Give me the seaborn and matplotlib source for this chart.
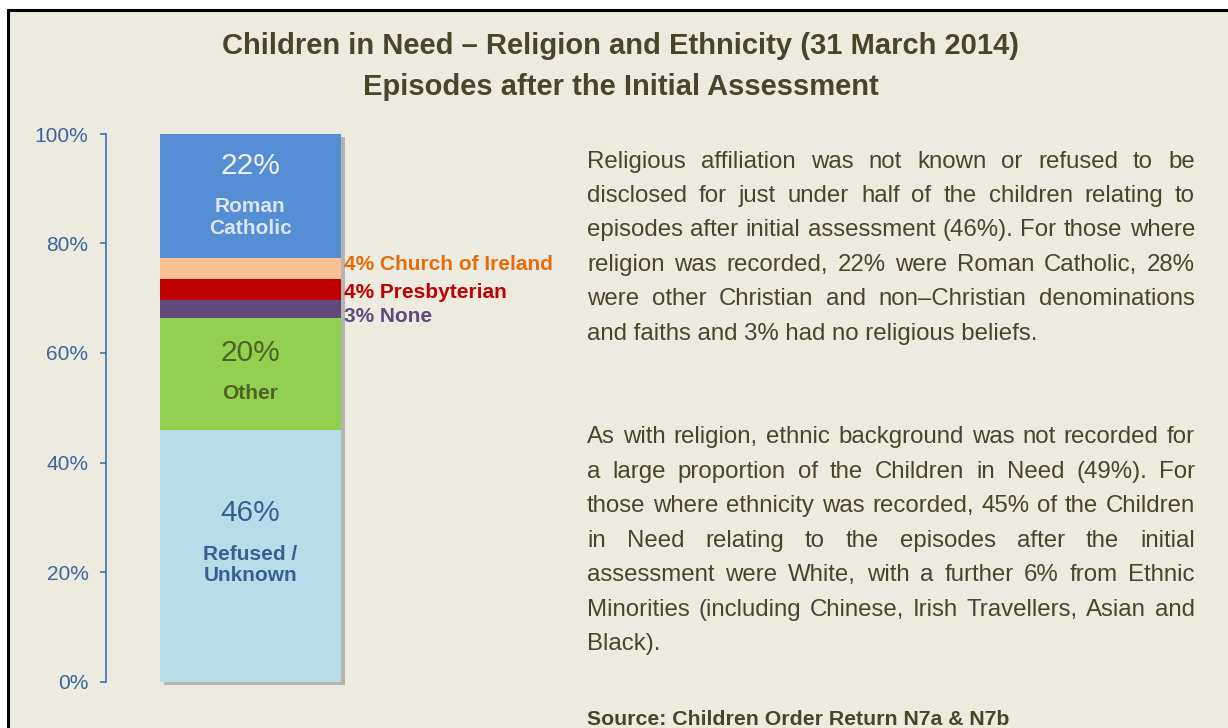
import matplotlib
matplotlib.use("Agg")
import matplotlib.pyplot as plt
import matplotlib.patheffects as pe
from matplotlib.patches import Rectangle
import seaborn as sns
import numpy as np

# data (bottom of stack first)
categories = ["Refused / Unknown", "Other", "None", "Presbyterian", "Church of Ireland", "Roman Catholic"]
shares = [46.0, 20.4, 3.2, 4.0, 3.7, 22.7]
share_labels = ["46%", "20%", "3%", "4%", "4%", "22%"]
inside_names = ["Refused /\nUnknown", "Other", None, None, None, "Roman\nCatholic"]
y_ticks = [0, 20, 40, 60, 80, 100]
y_tick_labels = ["0%", "20%", "40%", "60%", "80%", "100%"]

title_lines = ["Children in Need \u2013 Religion and Ethnicity (31 March 2014)",
               "Episodes after the Initial Assessment"]
para1 = ["Religious affiliation was not known or refused to be",
         "disclosed for just under half of the children relating to",
         "episodes after initial assessment (46%). For those where",
         "religion was recorded, 22% were Roman Catholic, 28%",
         "were other Christian and non\u2013Christian denominations",
         "and faiths and 3% had no religious beliefs."]
para2 = ["As with religion, ethnic background was not recorded for",
         "a large proportion of the Children in Need (49%). For",
         "those where ethnicity was recorded, 45% of the Children",
         "in Need relating to the episodes after the initial",
         "assessment were White, with a further 6% from Ethnic",
         "Minorities (including Chinese, Irish Travellers, Asian and",
         "Black)."]
source = "Source: Children Order Return N7a & N7b"

# styles
colors = ["#B7DEE8", "#92D050", "#604A7B", "#C00000", "#FAC090", "#558ED5"]
pct_colors = ["#376092", "#4F6228", "#604A7B", "#C00000", "#E46C0A", "#F2F2F2"]
name_colors = ["#376092", "#4F6228", "#604A7B", "#C00000", "#E46C0A", "#DCE6F2"]
# offsets (points) from segment centre
pct_off = [30.7, 14.8, 0, 0, 0, 21.7]
name_off = [-6.8, -13.9, 0, 0, 0, -15.3]
side_off = [0, 0, -9.0, -5.9, -1.2, 0]
bg = "#EDEAE0"
text_col = "#4A452A"
axis_col = "#4A7EBB"
tick_col = "#3B64A0"
body_size = 17.3

sns.set_theme(style="white")
plt.rcParams["font.family"] = ["Liberation Sans", "DejaVu Sans"]

W, H = 1228, 728
fig = plt.figure(figsize=(W / 100, H / 100), dpi=100)
fig.patch.set_facecolor("white")
fig.patches.append(Rectangle((8 / W, -0.05), 1.1, (H - 10) / H + 0.05, transform=fig.transFigure,
                             facecolor=bg, edgecolor="black", linewidth=2.2, zorder=-10))

ax = fig.add_axes([105.6 / W, (H - 681.5) / H, (560 - 105.6) / W, (681.5 - 134) / H])
ax.set_facecolor("none")

tops = np.cumsum(shares)
bottoms = tops - np.array(shares)
for i in reversed(range(len(shares))):
    sns.barplot(x=["Religion"], y=[tops[i]], color=colors[i], saturation=1, width=0.8,
                linewidth=0, ax=ax)
ax.patches[0].set_clip_on(False)
ax.patches[0].set_path_effects([pe.SimplePatchShadow(offset=(3, -2.2), shadow_rgbFace="#808080", alpha=0.5),
                                pe.Normal()])

ax.set_xlim(-0.641, 1.372)
ax.set_ylim(0, 100)
ax.set_yticks(y_ticks)
ax.set_yticklabels(y_tick_labels)
ax.set_xticks([])
ax.set_xlabel("")
ax.set_ylabel("")
for s in ["top", "right", "bottom"]:
    ax.spines[s].set_visible(False)
ax.spines["left"].set_color(axis_col)
ax.spines["left"].set_linewidth(1.3)
ax.tick_params(axis="y", left=True, direction="out", length=4.4, width=1.3, color=axis_col,
               pad=8, labelsize=15, labelcolor=tick_col)

for i in range(len(shares)):
    mid = bottoms[i] + shares[i] / 2
    if inside_names[i] is not None:
        ax.annotate(share_labels[i], xy=(0, mid), xytext=(0, pct_off[i]), textcoords="offset points",
                    ha="center", va="center", fontsize=21.5, color=pct_colors[i])
        ax.annotate(inside_names[i], xy=(0, mid), xytext=(0, name_off[i]), textcoords="offset points",
                    ha="center", va="center", fontsize=15, fontweight="bold", color=name_colors[i],
                    linespacing=1.15)
    else:
        ax.annotate(share_labels[i] + " " + categories[i], xy=(0.4, mid), xytext=(2.5, side_off[i]),
                    textcoords="offset points", ha="left", va="baseline", fontsize=15,
                    fontweight="bold", color=pct_colors[i])

# titles
fig.text(621 / W, 1 - 54 / H, title_lines[0], ha="center", va="baseline", fontsize=21,
         fontweight="bold", color=text_col)
fig.text(621 / W, 1 - 95 / H, title_lines[1], ha="center", va="baseline", fontsize=21,
         fontweight="bold", color=text_col)


def justified(lines, x0, x1, y_first, step):
    renderer = fig.canvas.get_renderer()
    for k, line in enumerate(lines):
        y = 1 - (y_first + k * step) / H
        words = line.split()
        if k == len(lines) - 1 or len(words) == 1:
            fig.text(x0 / W, y, line, ha="left", va="baseline", fontsize=body_size, color=text_col)
            continue
        objs = [fig.text(0, y, w, ha="left", va="baseline", fontsize=body_size, color=text_col)
                for w in words]
        widths = [o.get_window_extent(renderer).width for o in objs]
        gap = (x1 - x0 - sum(widths)) / (len(words) - 1)
        x = x0
        for o, w in zip(objs, widths):
            o.set_x(x / W)
            x += w + gap


justified(para1, 587, 1195, 167.7, 34.4)
justified(para2, 587, 1195, 443.3, 34.45)
fig.text(587 / W, 1 - 725 / H, source, ha="left", va="baseline", fontsize=15.3, fontweight="bold",
         color=text_col)

fig.savefig("out.png", dpi=100, facecolor=fig.get_facecolor())
